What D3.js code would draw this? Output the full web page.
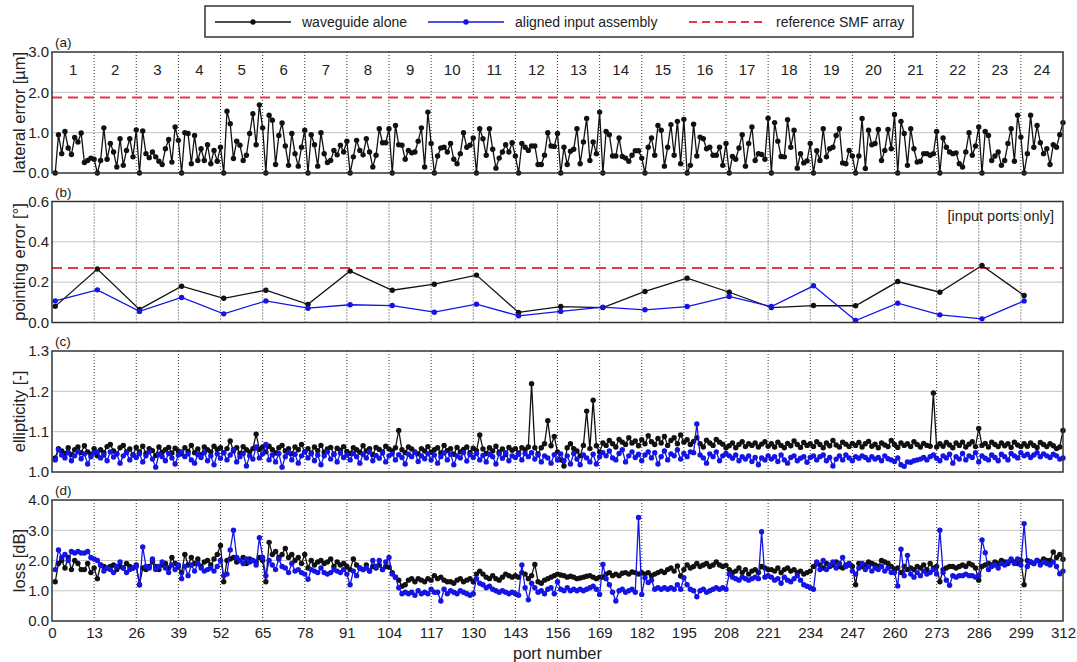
<!DOCTYPE html>
<html><head><meta charset="utf-8">
<script src="https://cdn.jsdelivr.net/npm/d3@7"></script>
<style>
body{margin:0;background:#fff}
text{font-family:"Liberation Sans",Arial,Helvetica,sans-serif;fill:#222}
</style>
</head><body>
<svg id="chart" width="1077" height="662"></svg>
<script>
// ---------------- data ----------------
const portNumbers = d3.range(1, 313);            // ports 1..312
const inputPortNumbers = d3.range(1, 313, 13);   // 1,14,...,300
const groupLabels = ["1","2","3","4","5","6","7","8","9","10","11","12","13","14","15","16","17","18","19","20","21","22","23","24"];
const xTickValues = [0,13,26,39,52,65,78,91,104,117,130,143,156,169,182,195,208,221,234,247,260,273,286,299,312];

const lateralErrorWaveguide = [
0,0.95,0.48,1.03,0.62,0.46,0.88,0.77,0.99,0.26,0.31,0.37,0.34,
0,0.31,1.12,0.34,0.73,0.52,0.15,0.85,0.19,0.56,0.85,0.40,1.07,
0,1.04,0.48,0.38,0.52,0.40,0.29,0.21,0.60,0.83,0.27,1.14,0.81,
0,1.00,0.98,0.23,0.93,0.31,0.60,0.31,0.70,0.23,0.56,0.29,0.64,
0,1.53,1.22,0.36,0.79,0.69,0.31,0.44,0.98,1.47,0.70,1.69,1.12,
0,1.43,1.31,0.21,0.93,1.24,0.67,0.19,0.98,0.48,0.17,0.64,1.06,
0,0.95,0.70,0.17,1.00,0.48,0.26,0.31,0.56,0.45,0.69,0.52,0.79,
0,0.40,0.81,0.56,0.45,0.85,0.52,0.15,0.44,1.10,0.75,0.75,1.10,
0,1.18,0.70,0.69,0.34,0.56,0.50,0.52,0.79,1.12,0.15,1.51,0.73,
0,0.42,0.62,0.64,0.52,0.73,0.34,0.23,0.48,1.00,0.64,0.69,0.87,
0,1.10,0.85,0.44,1.10,0.59,0.12,0.37,0.52,0.70,0.52,0.75,0.42,
0,0.73,0.64,0.56,0.67,0.67,0.21,0.21,0.44,1.00,0.67,0.66,0.98,
0,0.64,0.21,0.54,0.59,1.10,0.23,0.77,1.35,0.31,0.77,0.48,1.51,
0,1.03,0.95,0.42,0.42,0.87,0.41,0.37,0.29,0.44,0.55,0.55,0.37,
0,0.64,0.87,0.44,1.18,1.06,0.17,0.64,1.20,0.44,1.28,0.23,1.33,
0,0.19,1.21,0.42,0.89,0.85,0.60,0.64,0.44,0.44,0.64,0.19,0.73,
0,0.41,0.34,0.62,0.95,0.17,0.73,1.14,0.31,0.48,0.46,0.34,1.36,
0,1.25,0.79,0.41,0.40,1.32,0.64,1.06,0.12,0.48,0.25,0.30,0.73,
0,0.55,0.31,1.10,0.40,0.60,0.64,0.93,1.10,0.25,0.23,0.56,0.42,
0,0.42,1.35,0.11,1.06,0.70,0.73,1.08,0.31,0.56,1.08,0.60,1.45,
0,1.28,0.98,0.19,1.10,0.60,0.27,0.29,0.48,0.48,0.44,0.48,1.03,
0,0.87,0.64,0.52,0.48,0.50,0.23,0.15,0.52,1.00,0.44,0.67,1.14,
0,1.03,0.93,0.31,0.42,0.52,0.19,0.31,0.73,1.10,0.29,1.43,0.89,
0,0.48,1.43,0.64,1.18,0.75,0.48,0.60,0.21,0.70,0.64,0.95,1.25];

const pointingErrorWaveguide = [0.080,0.265,0.065,0.180,0.120,0.160,0.090,0.255,0.160,0.190,0.235,0.050,0.079,0.074,0.154,0.220,0.150,0.074,0.084,0.083,0.203,0.150,0.283,0.134];
const pointingErrorAssembly  = [0.107,0.162,0.055,0.124,0.043,0.107,0.071,0.088,0.084,0.051,0.091,0.033,0.055,0.076,0.063,0.079,0.129,0.079,0.182,0.010,0.096,0.038,0.018,0.107];

const ellipticityWaveguide = [
1.035,1.058,1.052,1.046,1.060,1.043,1.055,1.062,1.048,1.065,1.050,1.044,1.058,
1.040,1.055,1.048,1.063,1.068,1.052,1.045,1.060,1.066,1.050,1.057,1.042,1.061,
1.050,1.064,1.046,1.058,1.053,1.041,1.062,1.049,1.055,1.061,1.047,1.059,1.052,
1.045,1.060,1.051,1.066,1.048,1.057,1.043,1.062,1.055,1.050,1.064,1.056,1.060,
1.048,1.058,1.077,1.052,1.060,1.046,1.063,1.055,1.050,1.058,1.094,1.056,1.062,
1.050,1.064,1.055,1.047,1.060,1.066,1.052,1.058,1.045,1.062,1.055,1.068,1.050,
1.058,1.047,1.062,1.053,1.066,1.049,1.057,1.061,1.044,1.059,1.054,1.063,1.051,
1.046,1.060,1.055,1.049,1.065,1.052,1.058,1.043,1.061,1.056,1.050,1.064,1.057,
1.052,1.060,1.103,1.055,1.048,1.062,1.057,1.050,1.045,1.058,1.052,1.063,1.049,
1.055,1.060,1.047,1.066,1.053,1.058,1.044,1.061,1.050,1.056,1.062,1.048,1.059,
1.053,1.092,1.057,1.046,1.060,1.052,1.064,1.049,1.057,1.043,1.061,1.054,1.058,
1.047,1.060,1.055,1.062,1.219,1.060,1.045,1.060,1.070,1.127,1.065,1.088,1.050,
1.030,1.015,1.060,1.070,1.058,1.052,1.040,1.066,1.151,1.058,1.178,1.065,1.050,
1.072,1.066,1.078,1.070,1.062,1.081,1.074,1.068,1.085,1.072,1.077,1.065,1.080,
1.070,1.090,1.075,1.068,1.083,1.072,1.088,1.066,1.078,1.085,1.070,1.092,1.074,
1.080,1.068,1.076,1.085,1.070,1.062,1.079,1.072,1.066,1.081,1.074,1.069,1.060,
1.065,1.072,1.060,1.068,1.075,1.063,1.070,1.066,1.072,1.062,1.069,1.075,1.064,
1.070,1.062,1.074,1.066,1.060,1.071,1.065,1.077,1.068,1.061,1.073,1.066,1.070,
1.063,1.075,1.068,1.060,1.072,1.065,1.078,1.067,1.062,1.074,1.069,1.063,1.071,
1.066,1.073,1.062,1.070,1.076,1.064,1.069,1.060,1.072,1.067,1.063,1.078,1.068,
1.061,1.072,1.066,1.070,1.063,1.075,1.068,1.062,1.071,1.066,1.064,1.196,1.062,
1.070,1.064,1.073,1.067,1.060,1.072,1.066,1.074,1.062,1.069,1.075,1.063,1.108,
1.066,1.071,1.062,1.074,1.068,1.063,1.072,1.065,1.070,1.061,1.074,1.067,1.063,
1.070,1.064,1.072,1.066,1.061,1.073,1.068,1.063,1.070,1.065,1.058,1.062,1.103];

const ellipticityAssembly = [
1.030,1.055,1.042,1.035,1.048,1.028,1.040,1.050,1.033,1.045,1.020,1.038,1.047,
1.050,1.035,1.042,1.028,1.050,1.037,1.045,1.022,1.040,1.048,1.030,1.043,1.036,
1.045,1.025,1.040,1.050,1.032,1.012,1.044,1.038,1.028,1.046,1.035,1.020,1.042,
1.050,1.038,1.045,1.030,1.022,1.043,1.036,1.048,1.028,1.040,1.018,1.045,1.034,
1.048,1.030,1.042,1.055,1.025,1.038,1.046,1.015,1.040,1.032,1.062,1.035,1.045,
1.068,1.030,1.042,1.025,1.046,1.012,1.038,1.048,1.030,1.044,1.022,1.040,1.050,
1.035,1.045,1.028,1.042,1.018,1.040,1.050,1.032,1.044,1.025,1.047,1.036,1.042,
1.030,1.046,1.038,1.022,1.044,1.035,1.050,1.028,1.041,1.034,1.047,1.025,1.040,
1.045,1.030,1.043,1.036,1.020,1.044,1.038,1.048,1.026,1.040,1.033,1.045,1.030,
1.042,1.022,1.038,1.047,1.030,1.044,1.018,1.040,1.035,1.048,1.027,1.043,1.036,
1.046,1.030,1.041,1.025,1.044,1.038,1.020,1.045,1.034,1.048,1.028,1.040,1.036,
1.044,1.030,1.046,1.038,1.048,1.032,1.042,1.025,1.040,1.035,1.022,1.043,1.030,
1.045,1.028,1.040,1.020,1.046,1.032,1.018,1.042,1.035,1.025,1.044,1.020,1.038,
1.048,1.040,1.052,1.035,1.030,1.046,1.055,1.025,1.040,1.050,1.036,1.044,1.028,
1.042,1.050,1.035,1.048,1.020,1.038,1.052,1.030,1.045,1.040,1.055,1.032,1.046,
1.038,1.050,1.048,1.119,1.042,1.035,1.022,1.045,1.038,1.050,1.028,1.040,1.046,
1.040,1.034,1.042,1.028,1.038,1.032,1.040,1.026,1.036,1.018,1.035,1.030,1.040,
1.032,1.038,1.026,1.042,1.030,1.022,1.036,1.040,1.028,1.034,1.038,1.024,1.036,
1.040,1.030,1.038,1.042,1.028,1.036,1.015,1.032,1.040,1.030,1.042,1.035,1.028,
1.038,1.034,1.040,1.036,1.030,1.038,1.032,1.036,1.028,1.040,1.033,1.030,1.026,
1.035,1.018,1.014,1.025,1.024,1.028,1.030,1.032,1.036,1.030,1.038,1.042,1.034,
1.028,1.040,1.035,1.044,1.022,1.038,1.032,1.046,1.030,1.040,1.036,1.048,1.025,
1.040,1.034,1.030,1.042,1.036,1.028,1.044,1.038,1.030,1.046,1.040,1.035,1.048,
1.040,1.044,1.036,1.042,1.048,1.038,1.045,1.040,1.036,1.044,1.040,1.032,1.035];

const lossWaveguide = [
1.30,1.90,2.00,1.75,2.10,1.70,2.00,1.90,1.70,1.70,1.90,1.60,1.75,
1.40,1.85,1.80,1.75,1.80,1.85,1.70,1.80,1.75,1.90,1.80,1.75,1.85,
1.20,1.75,1.70,1.80,1.95,1.80,1.70,1.85,1.90,1.75,2.10,1.90,1.80,
1.60,2.20,1.85,2.10,1.90,2.05,1.80,1.95,2.00,1.85,2.05,2.20,2.50,
1.30,2.00,2.05,2.10,1.95,2.00,2.10,1.90,2.05,2.00,1.95,2.10,2.00,
1.30,2.60,2.20,2.30,2.10,2.20,2.40,2.10,2.20,2.00,2.10,1.90,2.20,
1.75,2.00,1.85,1.95,2.00,1.90,1.95,2.05,1.80,1.95,1.85,1.90,1.80,
1.70,2.05,1.85,1.75,1.70,1.85,1.65,1.80,1.75,1.85,1.70,1.80,1.78,
1.60,1.45,1.35,1.15,1.20,1.35,1.40,1.30,1.40,1.35,1.30,1.40,1.35,
1.50,1.40,1.45,1.35,1.30,1.30,1.25,1.35,1.40,1.30,1.35,1.40,1.30,
1.55,1.65,1.55,1.45,1.40,1.50,1.40,1.35,1.45,1.55,1.50,1.45,1.50,
1.45,1.60,1.55,1.40,1.50,1.87,1.30,1.25,1.35,1.40,1.45,1.50,1.55,
1.52,1.50,1.45,1.48,1.45,1.40,1.42,1.45,1.48,1.50,1.45,1.40,1.45,
1.45,1.55,1.60,1.50,1.55,1.50,1.58,1.60,1.55,1.62,1.60,1.55,1.60,
1.55,1.60,1.50,1.55,1.60,1.65,1.60,1.70,1.75,1.65,1.82,1.49,1.70,
1.85,1.75,1.80,1.90,1.80,1.85,1.90,1.80,1.85,1.95,1.85,1.80,1.84,
1.70,1.60,1.65,1.75,1.60,1.70,1.55,1.65,1.70,1.60,1.80,1.75,1.70,
1.70,1.65,1.75,1.60,1.70,1.75,1.65,1.70,1.60,1.65,1.55,1.60,1.65,
1.80,1.90,1.85,1.75,1.90,1.80,1.85,1.95,1.80,1.75,1.85,1.85,1.80,
1.20,1.90,1.80,1.85,1.95,1.90,1.85,1.80,2.00,1.95,1.90,1.80,1.70,
1.75,1.60,1.80,1.70,1.75,1.70,1.80,1.75,1.85,1.70,1.90,1.75,1.80,
1.30,1.70,1.75,1.80,1.80,1.75,1.80,1.85,1.80,1.90,1.85,1.75,1.35,
1.80,1.85,1.90,1.85,1.95,1.90,2.00,1.95,1.90,2.00,1.95,1.90,2.00,
1.20,2.00,1.95,1.90,2.00,1.95,2.05,2.00,2.00,2.28,2.10,2.20,2.04];

const lossAssembly = [
1.70,2.35,2.10,2.20,2.00,2.30,2.25,2.30,2.25,2.25,2.30,2.10,2.05,
2.00,1.85,1.65,1.75,1.70,1.60,1.80,1.95,1.75,1.60,1.70,1.75,1.80,
1.20,2.45,1.80,1.75,2.05,1.70,1.80,1.95,1.75,1.60,1.85,1.70,1.85,
1.40,1.80,1.50,1.85,1.65,1.90,1.75,1.65,1.70,1.75,1.65,1.80,2.00,
1.50,1.55,2.35,3.00,2.10,2.00,1.90,2.05,1.95,2.00,1.85,2.75,2.10,
1.50,2.00,1.85,1.70,2.05,1.80,1.75,1.60,1.90,1.65,1.70,1.60,1.55,
1.38,1.70,1.65,1.60,1.75,1.60,1.55,1.60,1.70,1.65,1.60,1.70,1.55,
1.20,1.65,1.50,1.75,1.70,1.75,1.65,2.00,1.80,2.00,1.70,1.95,2.10,
1.55,1.45,1.10,0.90,0.95,0.90,0.95,0.85,1.00,0.90,0.95,0.90,1.05,
0.95,0.95,0.66,1.05,0.90,1.00,0.95,0.90,1.00,0.95,0.90,0.85,0.90,
1.40,1.25,1.20,1.10,1.15,1.05,1.00,0.95,1.00,0.95,0.90,0.95,0.90,
0.85,1.85,1.10,0.70,1.25,1.10,0.95,1.00,0.90,1.05,1.10,0.90,1.30,
1.05,1.00,1.10,1.00,1.05,1.00,1.05,1.00,1.05,1.10,1.15,1.05,0.88,
1.87,1.40,1.20,0.95,0.66,1.00,1.05,0.95,1.00,1.05,0.95,3.42,0.88,
1.43,1.27,1.35,1.05,1.10,1.05,1.10,1.05,1.10,1.05,1.20,1.05,1.43,
1.20,1.05,1.00,0.80,1.00,1.05,0.95,1.00,1.05,1.10,1.05,1.10,1.05,
1.55,1.45,1.40,1.35,1.45,1.40,1.35,1.40,1.45,1.40,2.95,1.45,1.50,
1.45,1.35,1.40,1.25,1.45,1.35,1.30,1.40,1.50,1.35,1.20,1.15,1.10,
1.05,1.95,1.70,2.00,1.70,1.85,1.95,1.75,1.90,2.10,1.80,1.90,1.65,
1.55,1.75,1.90,1.70,1.80,1.65,1.75,1.70,1.80,1.65,1.75,1.60,1.60,
1.16,2.37,1.50,2.17,1.55,1.45,1.60,1.50,1.65,1.55,1.60,1.70,1.55,
3.00,1.60,1.35,1.18,1.50,1.45,1.50,1.50,1.55,1.50,1.50,1.45,1.50,
2.68,2.26,1.70,1.80,1.85,1.75,1.90,1.85,1.95,2.05,1.90,2.05,1.85,
3.22,1.80,1.95,1.90,2.00,1.85,1.95,1.90,1.85,1.95,1.80,1.56,1.65];

const referenceLateral = 1.87;
const referencePointing = 0.27;

const legendLabels = ["waveguide alone","aligned input assembly","reference SMF array"];
const yTitles = ["lateral error [\u00b5m]","pointing error [\u00b0]","ellipticity [-]","loss [dB]"];
const panelLetters = ["(a)","(b)","(c)","(d)"];
const yTicksA = [0,1,2,3], yTicksB = [0,0.2,0.4,0.6], yTicksC = [1.0,1.1,1.2,1.3], yTicksD = [0,1,2,3,4];

// ---------------- drawing ----------------
const BLACK = "#111", BLUE = "#1414e6", RED = "#e8344e";
const FONT = '"Liberation Sans",Arial,sans-serif';
const svg = d3.select("#chart");
const x = d3.scaleLinear().domain([0, 312]).range([52, 1063]);

const panels = [
  {top:52,  bottom:173, domain:[0,3],    ticks:yTicksA, ref:referenceLateral,
   series:[{x:portNumbers, y:lateralErrorWaveguide, c:BLACK}]},
  {top:201.5, bottom:322.5, domain:[0,0.6], ticks:yTicksB, ref:referencePointing,
   series:[{x:inputPortNumbers, y:pointingErrorWaveguide, c:BLACK},{x:inputPortNumbers, y:pointingErrorAssembly, c:BLUE}]},
  {top:351, bottom:472, domain:[1.0,1.3], ticks:yTicksC, ref:null,
   series:[{x:portNumbers, y:ellipticityWaveguide, c:BLACK},{x:portNumbers, y:ellipticityAssembly, c:BLUE}]},
  {top:500, bottom:621, domain:[0,4], ticks:yTicksD, ref:null,
   series:[{x:portNumbers, y:lossWaveguide, c:BLACK},{x:portNumbers, y:lossAssembly, c:BLUE}]}
];

panels.forEach((p, i) => {
  const y = d3.scaleLinear().domain(p.domain).range([p.bottom, p.top]);
  const g = svg.append("g");
  g.selectAll(".hg").data(p.ticks.slice(1, -1)).enter().append("line")
    .attr("x1", x(0)).attr("x2", x(312)).attr("y1", d => y(d)).attr("y2", d => y(d))
    .attr("stroke", "#c4c4c4").attr("stroke-width", 1);
  g.selectAll(".vg").data(xTickValues.slice(1, -1)).enter().append("line")
    .attr("x1", d => x(d)).attr("x2", d => x(d)).attr("y1", p.top).attr("y2", p.bottom)
    .attr("stroke", "#333").attr("stroke-width", 1).attr("stroke-dasharray", "1,2");
  if (p.ref !== null) {
    g.append("line").attr("x1", x(0)).attr("x2", x(312)).attr("y1", y(p.ref)).attr("y2", y(p.ref))
      .attr("stroke", RED).attr("stroke-width", 2).attr("stroke-dasharray", "10,6");
  }
  p.series.forEach(s => {
    const pts = s.x.map((xv, k) => [xv, s.y[k]]);
    g.append("path").datum(pts)
      .attr("d", d3.line().x(d => x(d[0])).y(d => y(d[1])))
      .attr("fill", "none").attr("stroke", s.c).attr("stroke-width", 1.3);
    g.selectAll(null).data(pts).enter().append("circle")
      .attr("cx", d => x(d[0])).attr("cy", d => y(d[1])).attr("r", 2.7).attr("fill", s.c);
  });
  g.append("rect").attr("x", x(0)).attr("y", p.top).attr("width", x(312) - x(0)).attr("height", p.bottom - p.top)
    .attr("fill", "none").attr("stroke", "#333").attr("stroke-width", 1.5);
  const ax = g.append("g").attr("transform", `translate(${x(0)},0)`)
    .call(d3.axisLeft(y).tickValues(p.ticks).tickSize(0).tickPadding(3).tickFormat(d3.format(".1f")));
  ax.select(".domain").remove();
  ax.selectAll("text").attr("font-size", 15).attr("fill", "#222").style("font-family", FONT);
  g.append("text").attr("transform", `translate(19,${(p.top + p.bottom) / 2}) rotate(-90)`)
    .attr("text-anchor", "middle").attr("dominant-baseline", "central").attr("font-size", 16.5)
    .text(yTitles[i]);
  g.append("text").attr("x", 55).attr("y", p.top - 5).attr("font-size", 13.5).text(panelLetters[i]);
  if (i === 0) {
    g.selectAll(".gl").data(groupLabels).enter().append("text")
      .attr("x", (d, k) => x(13 * k + 6.5)).attr("y", 75).attr("text-anchor", "middle")
      .attr("font-size", 15).text(d => d);
  }
  if (i === 1) {
    g.append("text").attr("x", 1054).attr("y", 221).attr("text-anchor", "end")
      .attr("font-size", 14.5).text("[input ports only]");
  }
  if (i === 3) {
    const bx = g.append("g").attr("transform", `translate(0,${p.bottom})`)
      .call(d3.axisBottom(x).tickValues(xTickValues).tickSize(0).tickPadding(6).tickFormat(d3.format("d")));
    bx.select(".domain").remove();
    bx.selectAll("text").attr("font-size", 15).attr("fill", "#222").style("font-family", FONT);
    g.append("text").attr("x", x(156)).attr("y", 659).attr("text-anchor", "middle")
      .attr("font-size", 16.5).text("port number");
  }
});

// legend
const lg = svg.append("g");
lg.append("rect").attr("x", 205).attr("y", 6).attr("width", 708).attr("height", 31)
  .attr("fill", "#fff").attr("stroke", "#333").attr("stroke-width", 1.5);
const legendItems = [
  {x1:215, x2:291, tx:302, c:BLACK, dash:null},
  {x1:428, x2:504, tx:515, c:BLUE, dash:null},
  {x1:689, x2:766, tx:776, c:RED, dash:"8,5"}
];
legendItems.forEach((it, k) => {
  lg.append("line").attr("x1", it.x1).attr("x2", it.x2).attr("y1", 22).attr("y2", 22)
    .attr("stroke", it.c).attr("stroke-width", it.dash ? 2 : 1.3).attr("stroke-dasharray", it.dash);
  if (!it.dash) lg.append("circle").attr("cx", (it.x1 + it.x2) / 2).attr("cy", 22).attr("r", 2.7).attr("fill", it.c);
  lg.append("text").attr("x", it.tx).attr("y", 22).attr("dominant-baseline", "central")
    .attr("font-size", 14).text(legendLabels[k]);
});
</script>
</body></html>
